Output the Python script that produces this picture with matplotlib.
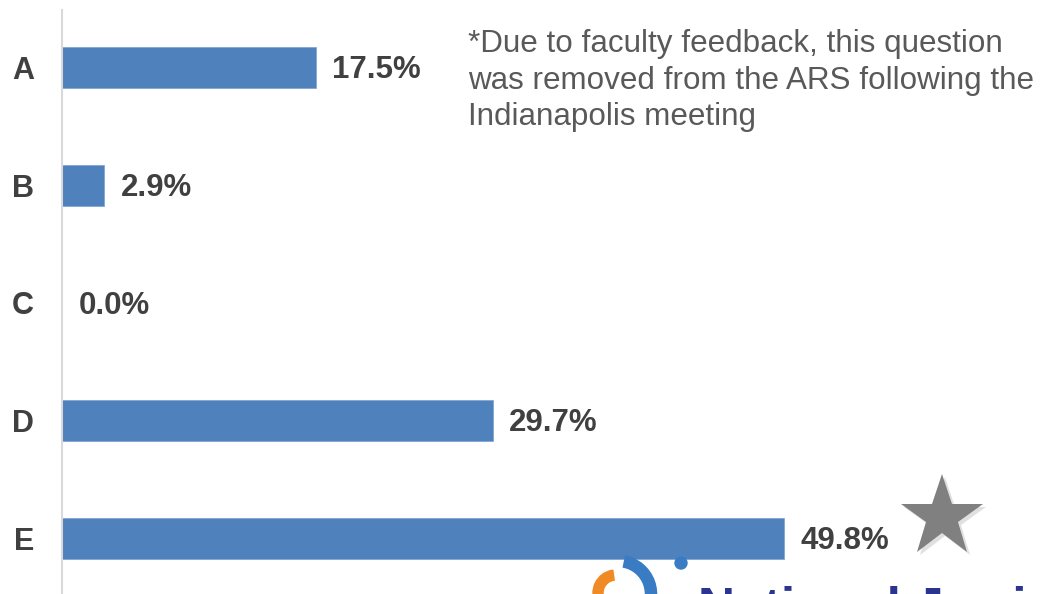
import matplotlib
matplotlib.use("Agg")
import matplotlib.pyplot as plt
import matplotlib.transforms as mtransforms
from matplotlib.patches import Arc, Circle, Wedge

plt.rcParams["font.family"] = ["Liberation Sans", "DejaVu Sans"]

# ARS answer distribution
categories = ["A", "B", "C", "D", "E"]
percent = [17.5, 2.9, 0.0, 29.7, 49.8]
correct = "E"
note = ("*Due to faculty feedback, this question\n"
        "was removed from the ARS following the\n"
        "Indianapolis meeting")

BAR = "#4f81bd"
TEXT = "#404040"
NOTE = "#595959"
STAR = "#808080"

W, H = 1046, 594
fig = plt.figure(figsize=(W / 100, H / 100), dpi=100)
ax = fig.add_axes([62 / W, 0, 984 / W, 584 / H])

ypos = list(range(len(categories)))
ax.barh(ypos, percent, height=0.35, color=BAR, edgecolor="#7fa6d6", linewidth=0.6)
ax.set_xlim(0, 984 / 14.5)
ax.set_ylim(4.475, -0.49)

for y, v in zip(ypos, percent):
    ax.annotate(f"{v:.1f}%", (v, y), xytext=(12, -2), textcoords="offset points",
                ha="left", va="center", fontsize=22.5, fontweight="bold", color=TEXT)

ax.set_yticks(ypos)
ax.set_yticklabels(categories, fontsize=22, fontweight="bold", color=TEXT)
ax.tick_params(axis="y", length=0, pad=20)
ax.set_xticks([])
for s in ("top", "right", "bottom"):
    ax.spines[s].set_visible(False)
ax.spines["left"].set_color("#d9d9d9")
ax.spines["left"].set_linewidth(1.5)

# star marking the correct answer, placed beyond its value label
i = categories.index(correct)
star_tr = mtransforms.offset_copy(ax.transData, fig=fig, x=158, y=21, units="dots")
for dx, dy, c, a in [(3, -3, "#000000", 0.12), (0, 0, STAR, 1.0)]:
    tr = mtransforms.offset_copy(star_tr, fig=fig, x=dx, y=dy, units="dots")
    ax.plot([percent[i]], [i], marker="*", markersize=62, color=c, alpha=a,
            markeredgewidth=0, transform=tr, clip_on=False)

fig.text(468 / W, 1 - 29 / H, note, ha="left", va="top", fontsize=22.6,
         color=NOTE, linespacing=1.29)

# clipped institution logo at the bottom edge (pixel coords from the top)
to_px = mtransforms.Affine2D().scale(1, -1).translate(0, H)
fig.patches.append(Wedge((616, 593), 23, 150, 262, width=10, color="#f08a24",
                         transform=to_px, figure=fig))
fig.patches.append(Arc((618, 594), 66, 66, theta1=-80, theta2=40, lw=9,
                       color="#3a7cc4", transform=to_px, figure=fig))
fig.patches.append(Circle((681, 563), 6, color="#3a7cc4", transform=to_px, figure=fig))
fig.text(698 / W, (H - 624) / H, "National Jewish", ha="left", va="baseline",
         fontsize=37, fontweight="bold", color="#2b3590")

fig.savefig("out.png", dpi=100)
